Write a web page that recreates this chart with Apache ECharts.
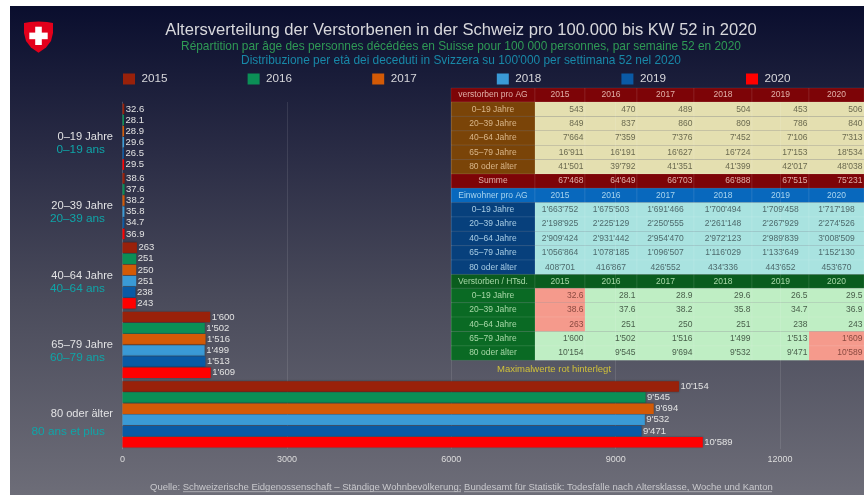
<!DOCTYPE html>
<html lang="de">
<head>
<meta charset="UTF-8">
<title>Altersverteilung der Verstorbenen</title>
<script src="https://cdn.jsdelivr.net/npm/echarts@6/dist/echarts.min.js"></script>
<style>
  html, body { margin: 0; padding: 0; background: #fff; }
  #chart { position: absolute; left: 0; top: 0; width: 864px; height: 495px; }
</style>
</head>
<body>
<div id="chart"></div>
<script>
const years = ['2015', '2016', '2017', '2018', '2019', '2020'];
const ageGroups = ['0–19 Jahre', '20–39 Jahre', '40–64 Jahre', '65–79 Jahre', '80 oder älter'];
const ageGroupsFr = ['0–19 ans', '20–39 ans', '40–64 ans', '60–79 ans', '80 ans et plus'];

// one row per age group, one column per year
const rate = [
  [32.6, 28.1, 28.9, 29.6, 26.5, 29.5],
  [38.6, 37.6, 38.2, 35.8, 34.7, 36.9],
  [263, 251, 250, 251, 238, 243],
  [1600, 1502, 1516, 1499, 1513, 1609],
  [10154, 9545, 9694, 9532, 9471, 10589]
];
const deaths = [
  ["543", "470", "489", "504", "453", "506"],
  ["849", "837", "860", "809", "786", "840"],
  ["7'664", "7'359", "7'376", "7'452", "7'106", "7'313"],
  ["16'911", "16'191", "16'627", "16'724", "17'153", "18'534"],
  ["41'501", "39'792", "41'351", "41'399", "42'017", "48'038"]
];
const deathSum = ["67'468", "64'649", "66'703", "66'888", "67'515", "75'231"];
const residents = [
  ["1'663'752", "1'675'503", "1'691'466", "1'700'494", "1'709'458", "1'717'198"],
  ["2'198'925", "2'225'129", "2'250'555", "2'261'148", "2'267'929", "2'274'526"],
  ["2'909'424", "2'931'442", "2'954'470", "2'972'123", "2'989'839", "3'008'509"],
  ["1'056'864", "1'078'185", "1'096'507", "1'116'029", "1'133'649", "1'152'130"],
  ["408'701", "416'867", "426'552", "434'336", "443'652", "453'670"]
];
const rateText = [
  ['32.6', '28.1', '28.9', '29.6', '26.5', '29.5'],
  ['38.6', '37.6', '38.2', '35.8', '34.7', '36.9'],
  ['263', '251', '250', '251', '238', '243'],
  ["1'600", "1'502", "1'516", "1'499", "1'513", "1'609"],
  ["10'154", "9'545", "9'694", "9'532", "9'471", "10'589"]
];
const maxMarked = [[0, 0], [1, 0], [2, 0], [3, 5], [4, 5]];
const yearColors = ['#99210a', '#0b8f56', '#d35a06', '#3a9ad6', '#0a5aa5', '#ff0000'];

const chart = echarts.init(document.getElementById('chart'));
const font = 'Liberation Sans';

function fmt(v) {
  return v >= 1000 ? String(v).replace(/(\d)(\d{3})$/, "$1'$2") : String(v);
}

// table cells as graphic elements
const colX = [451, 535, 585, 637, 694, 752, 809, 864];
const tableEls = [];
function cell(x0, x1, y0, y1, fill, text, color, align) {
  tableEls.push({
    type: 'rect',
    shape: { x: x0, y: y0, width: x1 - x0, height: y1 - y0 },
    style: { fill: fill, stroke: 'rgba(255,255,255,0.14)', lineWidth: 0.6 },
    silent: true
  });
  const right = align === 'right';
  tableEls.push({
    type: 'text',
    x: right ? x1 - 1.5 : (x0 + x1) / 2,
    y: (y0 + y1) / 2,
    style: {
      text: text, fill: color, font: '8.5px ' + font,
      align: right ? 'right' : 'center', verticalAlign: 'middle'
    },
    silent: true
  });
}
function headerRow(y0, y1, first, fill, color) {
  cell(colX[0], colX[1], y0, y1, fill, first, color);
  years.forEach((yr, i) => cell(colX[i + 1], colX[i + 2], y0, y1, fill, yr, color));
}
function bodyRows(yStart, rowH, rows, sideFill, sideColor, bodyFill, bodyColor, align, marks) {
  rows.forEach((row, r) => {
    const y0 = yStart + r * rowH, y1 = y0 + rowH;
    cell(colX[0], colX[1], y0, y1, sideFill, ageGroups[r], sideColor);
    row.forEach((txt, c) => {
      const hot = marks && marks.some(m => m[0] === r && m[1] === c);
      cell(colX[c + 1], colX[c + 2], y0, y1, hot ? '#f59a8c' : bodyFill, txt, hot ? '#8a4a40' : bodyColor, align);
    });
  });
}
headerRow(88, 102, 'verstorben pro AG', '#7d0407', '#e0b0a8');
bodyRows(102, 14.4, deaths, '#7a4408', '#d9b68a', '#e4dfb0', '#6b6a50', 'right');
cell(colX[0], colX[1], 174, 188.3, '#7d0407', 'Summe', '#e0b0a8');
deathSum.forEach((t, i) => cell(colX[i + 1], colX[i + 2], 174, 188.3, '#7d0407', t, '#e0b0a8', 'right'));
headerRow(188.3, 202.6, 'Einwohner pro AG', '#0868bd', '#a8d4ee');
bodyRows(202.6, 14.36, residents, '#07407c', '#a8cce4', '#a9e3e0', '#4e6a6c', 'center');
headerRow(274.4, 288.3, 'Verstorben / HTsd.', '#0a5c1e', '#a8d8a8');
bodyRows(288.3, 14.4, rateText, '#0a6a24', '#a8d8a8', '#bfeec4', '#4a604c', 'right', maxMarked);

const series = years.map((yr, y) => ({
  name: yr,
  type: 'bar',
  data: rate.map(row => row[y]),
  barWidth: 10.5,
  barGap: '6%',
  itemStyle: { color: yearColors[y], shadowColor: 'rgba(0,0,0,0.35)', shadowBlur: 2 },
  label: {
    show: true,
    position: 'right',
    distance: 1.5,
    color: '#e2e2e2',
    fontFamily: font,
    fontSize: 9.5,
    formatter: p => fmt(p.value)
  }
}));

function titleText(x, y, text, fill, size) {
  return {
    type: 'text', silent: true, x: x, y: y,
    style: { text: text, fill: fill, font: size + 'px ' + font, align: 'center', verticalAlign: 'middle' }
  };
}

chart.setOption({
  animation: false,
  backgroundColor: '#fff',
  graphic: {
    elements: [
      {
        type: 'rect', z: -10, silent: true,
        shape: { x: 10, y: 6, width: 854, height: 489 },
        style: {
          fill: new echarts.graphic.LinearGradient(0, 0, 0, 1, [
            { offset: 0, color: '#0a0e2e' },
            { offset: 0.3, color: '#2a2c45' },
            { offset: 0.6, color: '#4a4b5b' },
            { offset: 1, color: '#6d6d78' }
          ])
        }
      },
      // Swiss shield
      {
        type: 'polygon', silent: true,
        shape: { points: [[24, 23], [30, 22], [38.5, 21.5], [47, 22], [53, 23], [53, 33], [51, 41], [46, 47.5], [38.5, 52.7], [31, 47.5], [26, 41], [24, 33]] },
        style: { fill: '#e3001b' }
      },
      { type: 'rect', silent: true, shape: { x: 35.2, y: 26.7, width: 6.6, height: 18.3 }, style: { fill: '#fff' } },
      { type: 'rect', silent: true, shape: { x: 29.3, y: 32.6, width: 18.4, height: 6.6 }, style: { fill: '#fff' } },
      titleText(461, 30.5, 'Altersverteilung der Verstorbenen in der Schweiz pro 100.000 bis KW 52 in 2020', '#d8d8dc', 16.6),
      titleText(461, 47, 'Répartition par âge des personnes décédées en Suisse pour 100 000 personnes, par semaine 52 en 2020', '#2f9a55', 11.9),
      titleText(461, 61, "Distribuzione per età dei deceduti in Svizzera su 100'000 per settimana 52 nel 2020", '#1888a8', 11.9),
      titleText(554, 369, 'Maximalwerte rot hinterlegt', '#cfc03a', 9.5),
      {
        type: 'text', silent: true, x: 150, y: 487.5,
        style: {
          text: 'Quelle: Schweizerische Eidgenossenschaft – Ständige Wohnbevölkerung; Bundesamt für Statistik: Todesfälle nach Altersklasse, Woche und Kanton',
          fill: '#c8c8cc', font: '9.5px ' + font, verticalAlign: 'middle'
        }
      },
      { type: 'line', silent: true, shape: { x1: 183, y1: 491.7, x2: 461, y2: 491.7 }, style: { stroke: '#c8c8cc', lineWidth: 0.7 } },
      { type: 'line', silent: true, shape: { x1: 464, y1: 491.7, x2: 772, y2: 491.7 }, style: { stroke: '#c8c8cc', lineWidth: 0.7 } },
      ...tableEls
    ]
  },
  legend: {
    data: years,
    left: 118,
    top: 68,
    itemWidth: 12,
    itemHeight: 11,
    itemGap: 80.1,
    icon: 'rect',
    textStyle: { color: '#d8d8dc', fontFamily: font, fontSize: 11.7, padding: [0, 0, 0, 1.5] }
  },
  grid: { left: 122.5, top: 102, width: 657.6, height: 347 },
  xAxis: {
    type: 'value',
    min: 0,
    max: 12000,
    interval: 3000,
    axisLine: { show: false },
    axisTick: { show: false },
    axisLabel: { color: '#dcdcdc', fontFamily: font, fontSize: 9, margin: 6, formatter: v => String(v) },
    splitLine: { lineStyle: { color: 'rgba(255,255,255,0.1)', width: 1 } }
  },
  yAxis: {
    type: 'category',
    inverse: true,
    data: ageGroups,
    axisLine: { show: true, lineStyle: { color: 'rgba(255,255,255,0.12)' } },
    axisTick: { show: false },
    axisLabel: {
      interval: 0,
      margin: 9.5,
      align: 'right',
      // blank first line keeps the German line on the band centre
      formatter: (v, i) => i === 4
        ? '{sp2| }\n{de2|' + v + '}\n{fr2|' + ageGroupsFr[i] + '}'
        : '{sp| }\n{de|' + v + '}\n{fr|' + ageGroupsFr[i] + '}',
      rich: {
        sp: { fontSize: 11, lineHeight: 13 },
        de: { color: '#e2e2e4', fontFamily: font, fontSize: 11.1, lineHeight: 13 },
        fr: { color: '#0fa5a8', fontFamily: font, fontSize: 11.8, lineHeight: 13, padding: [0, 8, 0, 0] },
        sp2: { fontSize: 11, lineHeight: 17 },
        de2: { color: '#e2e2e4', fontFamily: font, fontSize: 11.1, lineHeight: 17 },
        fr2: { color: '#0fa5a8', fontFamily: font, fontSize: 11.8, lineHeight: 17, padding: [0, 8, 0, 0] }
      }
    }
  },
  series: series
});
</script>
</body>
</html>
